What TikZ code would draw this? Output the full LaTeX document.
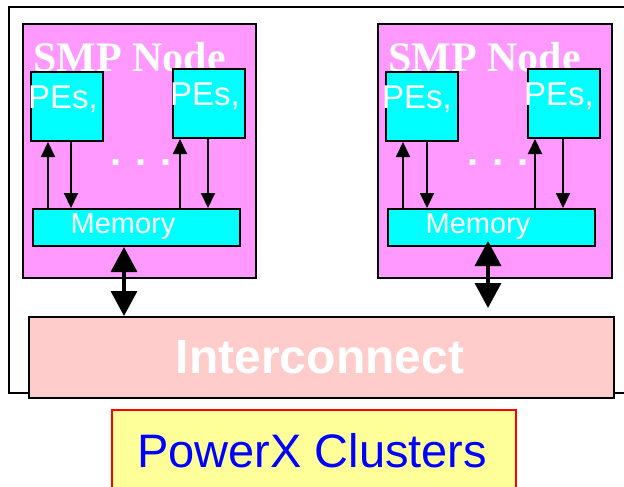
\documentclass[tikz,border=0pt]{standalone}
\usepackage{fontspec}
\setmainfont{Liberation Serif}
\setsansfont{Liberation Sans}
\usetikzlibrary{arrows.meta}
\definecolor{smpfill}{HTML}{FF99FF}
\definecolor{pefill}{HTML}{00FFFF}
\definecolor{icfill}{HTML}{FFCCCC}
\definecolor{pxfill}{HTML}{FFFF99}
\definecolor{pxtext}{HTML}{0000FF}
\tikzset{
  box/.style={draw=black, line width=2pt, inner sep=0pt, anchor=north west},
  smpbox/.style={box, fill=smpfill},
  pebox/.style={box, fill=pefill, minimum width=72pt, minimum height=69pt},
  membox/.style={box, fill=pefill, minimum width=207pt, minimum height=37pt},
  smptext/.style={text=white, inner sep=0pt, anchor=base west, font=\fontsize{42}{42}\selectfont\bfseries},
  petext/.style={text=white, inner sep=0pt, anchor=base west, font=\sffamily\fontsize{33}{33}\selectfont},
  memtext/.style={text=white, inner sep=0pt, anchor=base, font=\sffamily\fontsize{29}{29}\selectfont},
  dotstext/.style={text=white, inner sep=0pt, anchor=base west, font=\sffamily\bfseries\fontsize{40}{40}\selectfont},
  thin arrow/.style={line width=2pt, -{Triangle[width=14pt,length=15pt]}},
  big arrow/.style={line width=3.5pt, {Triangle[width=26pt,length=25pt]}-{Triangle[width=26pt,length=25pt]}},
}
\begin{document}
\begin{tikzpicture}[x=1pt,y=-1pt]
\useasboundingbox (0,0) rectangle (624,487);
\clip (0,0) rectangle (624,487);
% outer frame
\draw[line width=2pt] (630,7) -- (9,7) -- (9,393) -- (630,393);

% SMP node 1
\node[smpbox, minimum width=233pt, minimum height=254pt] (smp1) at (22,23) {};
\node[smptext] (smpt1) at (33,71) {SMP Node};
\node[pebox] (pe11) at (30,71) {};
\node[pebox] (pe12) at (172,68) {};
\node[petext] (pet11) at (28,108) {PEs,};
\node[petext] (pet12) at (170,105) {PEs,};
\node[dotstext] (dots1) at (110,165) {.\hspace{14pt}.\hspace{14pt}.};
\node[membox] (mem1) at (32,208) {};
\node[memtext] (memt1) at (123,233) {Memory};

% SMP node 2
\node[smpbox, minimum width=234pt, minimum height=254pt] (smp2) at (377,23) {};
\node[smptext] (smpt2) at (388,71) {SMP Node};
\node[pebox] (pe21) at (385,71) {};
\node[pebox] (pe22) at (527,68) {};
\node[petext] (pet21) at (382,108) {PEs,};
\node[petext] (pet22) at (524,105) {PEs,};
\node[dotstext] (dots2) at (467,165) {.\hspace{14pt}.\hspace{14pt}.};
\node[membox] (mem2) at (387,208) {};
\node[memtext] (memt2) at (478,233) {Memory};

% interconnect
\node[box, fill=icfill, minimum width=585pt, minimum height=81pt] (ic) at (28,316) {};
\node[text=white, inner sep=0pt, anchor=base, font=\sffamily\bfseries\fontsize{48}{48}\selectfont] (ict) at (320,373) {Interconnect};

% PowerX clusters
\node[box, draw=red, fill=pxfill, minimum width=404pt, minimum height=100pt] (px) at (111,409) {};
\node[text=pxtext, inner sep=0pt, anchor=base west, font=\sffamily\fontsize{47}{47}\selectfont] (pxt) at (137,467) {PowerX Clusters};

% thin arrows
\coordinate (a1) at (48,0);  \coordinate (b1) at (71,0);
\coordinate (a2) at (180,0); \coordinate (b2) at (208,0);
\coordinate (a3) at (403,0); \coordinate (b3) at (427,0);
\coordinate (a4) at (535,0); \coordinate (b4) at (563,0);
\draw[thin arrow] (mem1.north -| a1) -- (pe11.south -| a1);
\draw[thin arrow] (pe11.south -| b1) -- (mem1.north -| b1);
\draw[thin arrow] (mem1.north -| a2) -- (pe12.south -| a2);
\draw[thin arrow] (pe12.south -| b2) -- (mem1.north -| b2);
\draw[thin arrow] (mem2.north -| a3) -- (pe21.south -| a3);
\draw[thin arrow] (pe21.south -| b3) -- (mem2.north -| b3);
\draw[thin arrow] (mem2.north -| a4) -- (pe22.south -| a4);
\draw[thin arrow] (pe22.south -| b4) -- (mem2.north -| b4);

% big arrows
\coordinate (c1) at (124,0);
\coordinate (c2) at (488,0);
\draw[big arrow] (mem1.south -| c1) -- (ic.north -| c1);
\draw[big arrow] ([yshift=6pt]mem2.south -| c2) -- ([yshift=8pt]ic.north -| c2);
\end{tikzpicture}
\end{document}
